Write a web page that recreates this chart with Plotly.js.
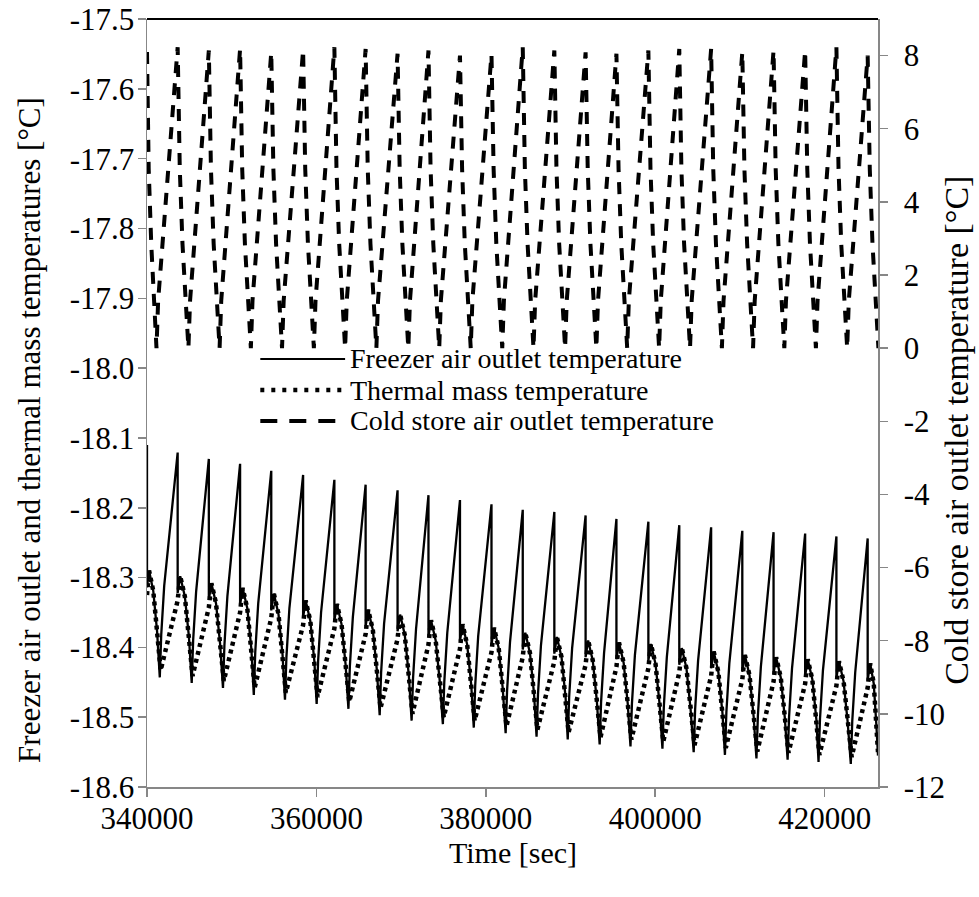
<!DOCTYPE html>
<html>
<head>
<meta charset="utf-8">
<script src="https://cdn.plot.ly/plotly-3.0.1.min.js"></script>
<style>html,body{margin:0;padding:0;background:#fff;}#chart{width:979px;height:897px;}</style>
</head>
<body>
<div id="chart"></div>
<script>
// Freezer air outlet temperature (left axis), time [s]
const freezerTime = [
 340000,340000,340240,340740,341190,
 341510,341680,342030,343620,343620,343920,344470,344950,
 345280,345450,345800,347300,347300,347600,348150,348630,
 348970,349140,349490,350990,350990,351290,351840,352320,
 352610,352780,353130,354670,354670,354970,355520,356000,
 356290,356460,356810,358430,358430,358730,359280,359760,
 360030,360200,360550,362120,362120,362420,362970,363450,
 363780,363950,364300,365810,365810,366110,366660,367140,
 367470,367640,367990,369580,369580,369880,370430,370910,
 371240,371410,371760,373230,373230,373530,374080,374560,
 374930,375100,375450,376950,376950,377250,377800,378280,
 378580,378750,379100,380670,380670,380970,381520,382000,
 382340,382510,382860,384360,384360,384660,385210,385690,
 385990,386160,386510,388090,388090,388390,388940,389420,
 389670,389840,390190,391780,391780,392080,392630,393110,
 393440,393610,393960,395420,395420,395720,396270,396750,
 397080,397250,397600,399190,399190,399490,400040,400520,
 400850,401020,401370,402840,402840,403140,403690,404170,
 404540,404710,405060,406600,406600,406900,407450,407930,
 408230,408400,408750,410280,410280,410580,411130,411610,
 411950,412120,412470,413970,413970,414270,414820,415300,
 415630,415800,416150,417700,417700,418000,418550,419030,
 419280,419450,419800,421390,421390,421690,422240,422720,
 423090,423260,423610,425080,425080,425380,425800,426100,426300
];
const freezerTemp = [
 -18.110,-18.314,-18.290,-18.319,-18.377,
 -18.443,-18.382,-18.312,-18.121,-18.322,-18.298,-18.327,-18.385,
 -18.451,-18.390,-18.320,-18.130,-18.332,-18.308,-18.337,-18.395,
 -18.458,-18.397,-18.327,-18.137,-18.339,-18.315,-18.344,-18.402,
 -18.468,-18.407,-18.337,-18.147,-18.347,-18.323,-18.352,-18.410,
 -18.475,-18.414,-18.344,-18.153,-18.357,-18.333,-18.362,-18.420,
 -18.481,-18.420,-18.350,-18.160,-18.362,-18.338,-18.367,-18.425,
 -18.488,-18.427,-18.357,-18.167,-18.370,-18.346,-18.375,-18.433,
 -18.497,-18.436,-18.366,-18.175,-18.377,-18.353,-18.382,-18.440,
 -18.505,-18.444,-18.374,-18.182,-18.385,-18.361,-18.390,-18.448,
 -18.510,-18.449,-18.379,-18.189,-18.391,-18.367,-18.396,-18.454,
 -18.515,-18.454,-18.384,-18.195,-18.396,-18.372,-18.401,-18.459,
 -18.523,-18.462,-18.392,-18.203,-18.403,-18.379,-18.408,-18.466,
 -18.528,-18.467,-18.397,-18.206,-18.409,-18.385,-18.414,-18.472,
 -18.532,-18.471,-18.401,-18.211,-18.414,-18.390,-18.419,-18.477,
 -18.539,-18.478,-18.408,-18.216,-18.417,-18.393,-18.422,-18.480,
 -18.542,-18.481,-18.411,-18.220,-18.419,-18.395,-18.424,-18.482,
 -18.545,-18.484,-18.414,-18.225,-18.425,-18.401,-18.430,-18.488,
 -18.550,-18.489,-18.419,-18.228,-18.430,-18.406,-18.435,-18.493,
 -18.554,-18.493,-18.423,-18.233,-18.435,-18.411,-18.440,-18.498,
 -18.559,-18.498,-18.428,-18.235,-18.438,-18.414,-18.443,-18.501,
 -18.561,-18.500,-18.430,-18.237,-18.441,-18.417,-18.446,-18.504,
 -18.564,-18.503,-18.433,-18.241,-18.444,-18.420,-18.449,-18.507,
 -18.567,-18.506,-18.436,-18.244,-18.447,-18.423,-18.452,-18.510,-18.555
];

// Thermal mass temperature (left axis)
const thermalTime = [
 340000,340240,340740,341190,
 341610,343620,343920,344470,344950,
 345380,347300,347600,348150,348630,
 349070,350990,351290,351840,352320,
 352710,354670,354970,355520,356000,
 356390,358430,358730,359280,359760,
 360130,362120,362420,362970,363450,
 363880,365810,366110,366660,367140,
 367570,369580,369880,370430,370910,
 371340,373230,373530,374080,374560,
 375030,376950,377250,377800,378280,
 378680,380670,380970,381520,382000,
 382440,384360,384660,385210,385690,
 386090,388090,388390,388940,389420,
 389770,391780,392080,392630,393110,
 393540,395420,395720,396270,396750,
 397180,399190,399490,400040,400520,
 400950,402840,403140,403690,404170,
 404640,406600,406900,407450,407930,
 408330,410280,410580,411130,411610,
 412050,413970,414270,414820,415300,
 415730,417700,418000,418550,419030,
 419380,421390,421690,422240,422720,
 423190,425080,425380,425800,426100,426300
];
const thermalTemp = [
 -18.325,-18.290,-18.319,-18.377,
 -18.433,-18.333,-18.298,-18.327,-18.385,
 -18.441,-18.343,-18.308,-18.337,-18.395,
 -18.448,-18.350,-18.315,-18.344,-18.402,
 -18.458,-18.358,-18.323,-18.352,-18.410,
 -18.465,-18.368,-18.333,-18.362,-18.420,
 -18.471,-18.373,-18.338,-18.367,-18.425,
 -18.478,-18.381,-18.346,-18.375,-18.433,
 -18.487,-18.388,-18.353,-18.382,-18.440,
 -18.495,-18.396,-18.361,-18.390,-18.448,
 -18.500,-18.402,-18.367,-18.396,-18.454,
 -18.505,-18.407,-18.372,-18.401,-18.459,
 -18.513,-18.414,-18.379,-18.408,-18.466,
 -18.518,-18.420,-18.385,-18.414,-18.472,
 -18.522,-18.425,-18.390,-18.419,-18.477,
 -18.529,-18.428,-18.393,-18.422,-18.480,
 -18.532,-18.430,-18.395,-18.424,-18.482,
 -18.535,-18.436,-18.401,-18.430,-18.488,
 -18.540,-18.441,-18.406,-18.435,-18.493,
 -18.544,-18.446,-18.411,-18.440,-18.498,
 -18.549,-18.449,-18.414,-18.443,-18.501,
 -18.551,-18.452,-18.417,-18.446,-18.504,
 -18.554,-18.455,-18.420,-18.449,-18.507,
 -18.557,-18.458,-18.423,-18.452,-18.510,-18.550
];

// Cold store air outlet temperature (right axis)
const coldTime = [
 340000,340200,340500,341120,341315,
 343620,343870,344190,344890,345085,
 347300,347550,347870,348570,348765,
 350990,351240,351560,352260,352455,
 354670,354920,355240,355940,356135,
 358430,358680,359000,359700,359895,
 362120,362370,362690,363390,363585,
 365810,366060,366380,367080,367275,
 369580,369830,370150,370850,371045,
 373230,373480,373800,374500,374695,
 376950,377200,377520,378220,378415,
 380670,380920,381240,381940,382135,
 384360,384610,384930,385630,385825,
 388090,388340,388660,389360,389555,
 391780,392030,392350,393050,393245,
 395420,395670,395990,396690,396885,
 399190,399440,399760,400460,400655,
 402840,403090,403410,404110,404305,
 406600,406850,407170,407870,408065,
 410280,410530,410850,411550,411745,
 413970,414220,414540,415240,415435,
 417700,417950,418270,418970,419165,
 421390,421640,421960,422660,422855,
 425080,425330,425650,426350
];
const coldTemp = [
 8.10,4.9,2.85,0,1.3,
 8.23,4.9,2.85,0,1.3,
 8.14,4.9,2.85,0,1.3,
 8.18,4.9,2.85,0,1.3,
 8.09,4.9,2.85,0,1.3,
 8.16,4.9,2.85,0,1.3,
 8.23,4.9,2.85,0,1.3,
 8.18,4.9,2.85,0,1.3,
 8.05,4.9,2.85,0,1.3,
 8.14,4.9,2.85,0,1.3,
 8.00,4.9,2.85,0,1.3,
 8.03,4.9,2.85,0,1.3,
 8.23,4.9,2.85,0,1.3,
 8.14,4.9,2.85,0,1.3,
 8.09,4.9,2.85,0,1.3,
 8.05,4.9,2.85,0,1.3,
 8.14,4.9,2.85,0,1.3,
 8.18,4.9,2.85,0,1.3,
 8.18,4.9,2.85,0,1.3,
 8.09,4.9,2.85,0,1.3,
 8.14,4.9,2.85,0,1.3,
 8.14,4.9,2.85,0,1.3,
 8.23,4.9,2.85,0,1.3,
 8.00,4.9,2.85,0
];

const seriesNames = ['Freezer air outlet temperature', 'Thermal mass temperature', 'Cold store air outlet temperature'];
const xTitle = 'Time [sec]';
const leftTitle = 'Freezer air outlet and thermal mass temperatures [°C]';
const rightTitle = 'Cold store air outlet temperature [°C]';
const xTickVals = [340000, 360000, 380000, 400000, 420000];
const xTickText = ['340000', '360000', '380000', '400000', '420000'];
const leftTickVals = [-18.6, -18.5, -18.4, -18.3, -18.2, -18.1, -18.0, -17.9, -17.8, -17.7, -17.6, -17.5];
const leftTickText = ['-18.6', '-18.5', '-18.4', '-18.3', '-18.2', '-18.1', '-18.0', '-17.9', '-17.8', '-17.7', '-17.6', '-17.5'];
const rightTickVals = [-12, -10, -8, -6, -4, -2, 0, 2, 4, 6, 8];
const rightTickText = ['-12', '-10', '-8', '-6', '-4', '-2', '0', '2', '4', '6', '8'];

const FONT = "'Liberation Serif', serif";
const AX = '#878787';

const traces = [
  {x: freezerTime, y: freezerTemp, name: seriesNames[0], type: 'scatter', mode: 'lines',
   line: {color: '#000', width: 2.3}, yaxis: 'y'},
  {x: thermalTime, y: thermalTemp, name: seriesNames[1], type: 'scatter', mode: 'lines',
   line: {color: '#000', width: 4.5, dash: '4px,4px'}, yaxis: 'y'},
  {x: coldTime, y: coldTemp, name: seriesNames[2], type: 'scatter', mode: 'lines',
   line: {color: '#000', width: 4, dash: '12px,10px'}, yaxis: 'y2'}
];

const legRowsY = [0.5573, 0.5169, 0.4766];
const legDash = ['solid', '4px,7px', '17px,12px'];
const legWidth = [2, 4.5, 4];
const shapes = [
  {type: 'line', xref: 'paper', yref: 'paper', x0: 0, x1: 1, y0: 1, y1: 1, line: {color: '#000', width: 2}}
];
const annotations = [];
for (let i = 0; i < 3; i++) {
  shapes.push({type: 'line', xref: 'paper', yref: 'paper', x0: 0.155, x1: 0.271, y0: legRowsY[i], y1: legRowsY[i],
    line: {color: '#000', width: legWidth[i], dash: legDash[i]}});
  annotations.push({xref: 'paper', yref: 'paper', x: 0.277, y: legRowsY[i], xanchor: 'left', yanchor: 'middle',
    text: seriesNames[i], showarrow: false, borderpad: 0, font: {family: FONT, size: 28, color: '#000'}});
}
annotations.push({xref: 'paper', yref: 'paper', x: 0.5, y: -0.0859, xanchor: 'center', yanchor: 'middle',
  text: xTitle, showarrow: false, font: {family: FONT, size: 30, color: '#000'}});
annotations.push({xref: 'paper', yref: 'paper', x: -0.160, y: 0.465, xanchor: 'center', yanchor: 'middle', textangle: -90,
  text: leftTitle, showarrow: false, font: {family: FONT, size: 31, color: '#000'}});
annotations.push({xref: 'paper', yref: 'paper', x: 1.108, y: 0.465, xanchor: 'center', yanchor: 'middle', textangle: -90,
  text: rightTitle, showarrow: false, font: {family: FONT, size: 34, color: '#000'}});

const axisCommon = {
  ticks: 'outside', ticklen: 8, tickwidth: 1.5, tickcolor: AX,
  showline: true, linecolor: AX, linewidth: 1.5,
  showgrid: false, zeroline: false, automargin: false,
  ticklabeloverflow: 'allow',
  tickfont: {family: FONT, size: 31, color: '#000'}
};

const layout = {
  width: 979, height: 897,
  margin: {l: 147, r: 101, t: 19, b: 110, pad: 0},
  paper_bgcolor: '#fff', plot_bgcolor: '#fff',
  font: {family: FONT, size: 30, color: '#000'},
  showlegend: false,
  xaxis: Object.assign({}, axisCommon, {
    range: [340000, 426300], tickmode: 'array', tickvals: xTickVals, ticktext: xTickText,
    ticklabelstandoff: -5
  }),
  yaxis: Object.assign({}, axisCommon, {
    range: [-18.6, -17.4999], tickmode: 'array', tickvals: leftTickVals, ticktext: leftTickText,
    ticklabelstandoff: -3
  }),
  yaxis2: Object.assign({}, axisCommon, {
    overlaying: 'y', side: 'right',
    range: [-12, 9], tickmode: 'array', tickvals: rightTickVals, ticktext: rightTickText,
    ticklabelstandoff: 10
  }),
  shapes: shapes,
  annotations: annotations
};

Plotly.newPlot('chart', traces, layout, {staticPlot: true, displayModeBar: false});
</script>
</body>
</html>
